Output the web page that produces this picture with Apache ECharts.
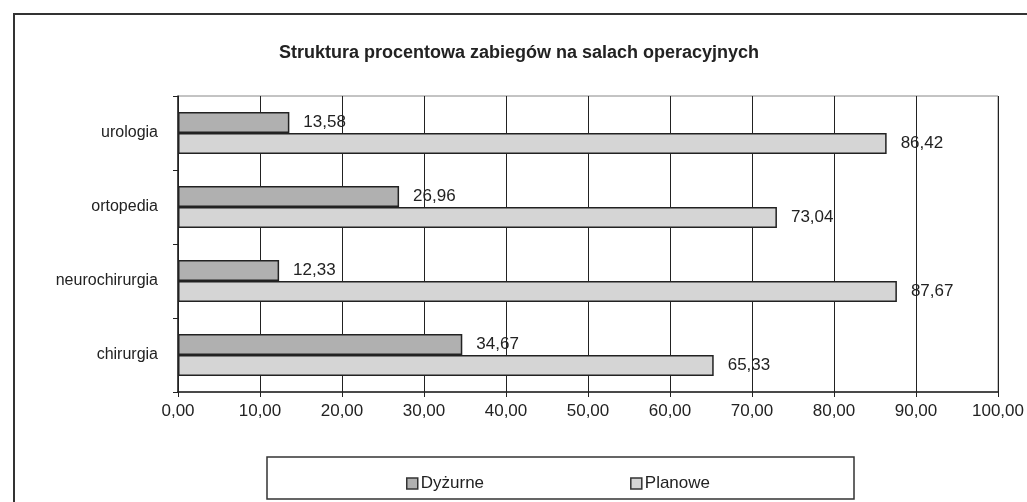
<!DOCTYPE html>
<html>
<head>
<meta charset="utf-8">
<script src="https://cdn.jsdelivr.net/npm/echarts@6/dist/echarts.min.js"></script>
<style>
  html, body { margin: 0; padding: 0; background: #fff; }
  #chart { width: 1027px; height: 502px; }
</style>
</head>
<body>
<div id="chart"></div>
<script>
var categories = ['chirurgia', 'neurochirurgia', 'ortopedia', 'urologia'];
var dyzurne = [34.67, 12.33, 26.96, 13.58];
var planowe = [65.33, 87.67, 73.04, 86.42];

var font = 'Liberation Sans, Arial, sans-serif';
var fmt = function (v) { return Number(v).toFixed(2).replace('.', ','); };

var dom = document.getElementById('chart');
var myChart = echarts.init(dom, null, { renderer: 'canvas' });

var option = {
    animation: false,
    backgroundColor: '#fff',
    title: {
        text: 'Struktura procentowa zabiegów na salach operacyjnych',
        left: 514,
        textAlign: 'center',
        top: 39,
        textStyle: { fontFamily: font, fontSize: 18, fontWeight: 'bold', color: '#222' }
    },
    graphic: [
        {
            type: 'rect',
            shape: { x: 14, y: 14, width: 1100, height: 600 },
            style: { fill: 'none', stroke: '#333', lineWidth: 2 },
            silent: true
        },
        {
            type: 'rect',
            shape: { x: 267, y: 457, width: 587, height: 42 },
            style: { fill: 'none', stroke: '#333', lineWidth: 1.5 },
            silent: true
        }
    ],
    legend: {
        data: ['Dyżurne', 'Planowe'],
        left: 401,
        top: 470,
        itemGap: 146,
        itemWidth: 11,
        itemHeight: 11,
        itemStyle: { borderColor: '#333', borderWidth: 1.5 },
        icon: 'rect',
        textStyle: { fontFamily: font, fontSize: 17, color: '#222', padding: [0, 0, 0, -2] }
    },
    grid: {
        left: 178,
        right: 29,
        top: 96,
        bottom: 110,
        show: true,
        borderColor: '#888',
        borderWidth: 1
    },
    xAxis: {
        type: 'value',
        min: 0,
        max: 100,
        interval: 10,
        axisLine: { show: true, lineStyle: { color: '#222', width: 1.5 } },
        axisTick: { show: true, length: 5, lineStyle: { color: '#222' } },
        splitLine: { show: true, lineStyle: { color: '#222', width: 1 } },
        axisLabel: { fontFamily: font, fontSize: 17, color: '#222', margin: 11, formatter: fmt }
    },
    yAxis: {
        type: 'category',
        data: categories,
        axisLine: { show: true, lineStyle: { color: '#222', width: 1.5 } },
        axisTick: { show: true, length: 5, lineStyle: { color: '#222' } },
        axisLabel: { fontFamily: font, fontSize: 16, color: '#222', margin: 20 }
    },
    series: [
        {
            name: 'Dyżurne',
            type: 'bar',
            data: dyzurne,
            barWidth: 21,
            barGap: '0%',
            itemStyle: { color: '#b0b0b0', borderColor: '#222', borderWidth: 1.5 },
            label: {
                show: true, position: 'right', distance: 14,
                fontFamily: font, fontSize: 17, color: '#222',
                formatter: function (p) { return fmt(p.value); }
            }
        },
        {
            name: 'Planowe',
            type: 'bar',
            data: planowe,
            barWidth: 21,
            barGap: '0%',
            itemStyle: { color: '#d5d5d5', borderColor: '#222', borderWidth: 1.5 },
            label: {
                show: true, position: 'right', distance: 14,
                fontFamily: font, fontSize: 17, color: '#222',
                formatter: function (p) { return fmt(p.value); }
            }
        }
    ]
};

myChart.setOption(option);
window.addEventListener('resize', myChart.resize);
</script>
</body>
</html>
